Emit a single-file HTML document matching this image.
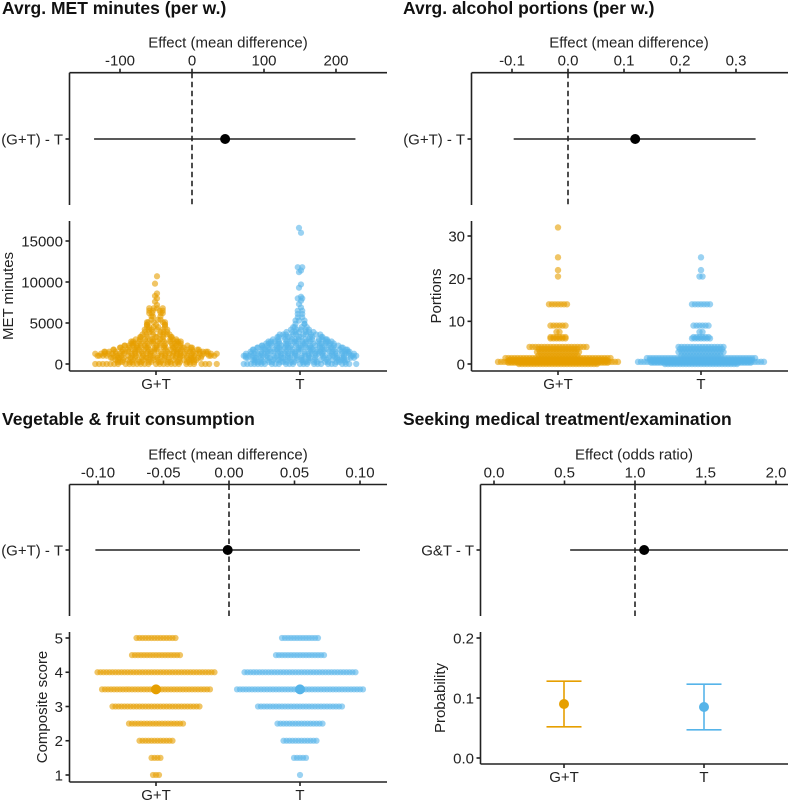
<!DOCTYPE html>
<html lang="en">
<head>
<meta charset="utf-8">
<title>Effects on health behaviours</title>
<style>
html,body{margin:0;padding:0;background:#fff;}
svg{display:block;}
text{font-family:"Liberation Sans",Arial,sans-serif;fill:#222;}
.title{font-weight:bold;font-size:17.5px;fill:#111;}
.lab{font-size:15px;}
.axis{stroke:#222;stroke-width:1.6;fill:none;}
</style>
</head>
<body>
<svg id="chart" xmlns="http://www.w3.org/2000/svg" width="790" height="801" viewBox="0 0 790 801"></svg>
<script>
// Forest-plot data: [low, estimate, high]
const metEffect = [-136, 46, 227];
const alcoholEffect = [-0.097, 0.12, 0.335];
const vegEffect = [-0.102, -0.001, 0.1];
const medicalEffect = [0.54, 1.065, 2.09];

// Effect axis ticks
const metEffectTicks = [-100, 0, 100, 200];
const metEffectLabels = ['-100', '0', '100', '200'];
const alcoholEffectTicks = [-0.1, 0, 0.1, 0.2, 0.3];
const alcoholEffectLabels = ['-0.1', '0.0', '0.1', '0.2', '0.3'];
const vegEffectTicks = [-0.1, -0.05, 0, 0.05, 0.1];
const vegEffectLabels = ['-0.10', '-0.05', '0.00', '0.05', '0.10'];
const medicalEffectTicks = [0, 0.5, 1, 1.5, 2];
const medicalEffectLabels = ['0.0', '0.5', '1.0', '1.5', '2.0'];

// Group categories
const groups = ['G+T', 'T'];

// MET minutes: response value and number of participants at that value
const metGTValues = [0,250,500,750,1000,1250,1500,1750,2000,2250,2500,2750,3000,3300,3600,3900,4200,4500,4800,5100,5400,5800,6200,6500,6800,7200,7600,8000,8300,8600,9800,10700];
const metGTCounts = [28,18,19,21,27,28,24,20,17,15,12,12,10,8,7,6,6,5,5,5,3,3,4,4,4,1,1,1,1,1,1,1];
const metTValues = [0,250,500,750,1000,1250,1500,1750,2000,2250,2500,2750,3000,3300,3600,3900,4200,4500,4900,5300,5700,6100,6500,6900,7300,7700,8000,8200,9300,9700,11200,11400,11800,16000,16600];
const metTCounts = [26,21,22,25,26,25,23,22,20,18,16,15,13,11,10,7,5,4,3,3,2,2,2,1,1,1,2,1,1,1,1,1,2,1,1];
const metTicks = [0, 5000, 10000, 15000];

// Alcohol portions
const alcoholGTValues = [0,0.3,0.5,0.8,1,1.4,2,2.8,3.5,4,6,6.3,7.5,9,14,20.5,22,25,32];
const alcoholGTCounts = [27,34,41,34,33,36,14,15,14,20,6,6,2,6,7,1,1,1,1];
const alcoholTValues = [0,0.3,0.5,0.8,1,1.4,2,2.8,3.5,4,6,6.3,7.5,9,14,20.5,22,25];
const alcoholTCounts = [25,34,43,34,35,37,14,16,15,16,7,6,2,6,7,2,1,1];
const alcoholTicks = [0, 10, 20, 30];

// Composite score
const scoreValues = [1,1.5,2,2.5,3,3.5,4,4.5,5];
const scoreGTCounts = [3,4,12,19,30,37,40,17,14];
const scoreTCounts = [1,5,12,16,29,43,38,17,13];
const scoreMeans = [3.5, 3.5];
const scoreTicks = [1, 2, 3, 4, 5];

// Probability of seeking treatment
const probMean = [0.09, 0.085];
const probLow = [0.052, 0.047];
const probHigh = [0.128, 0.123];
const probTicks = [0, 0.1, 0.2];
const probTickLabels = ['0.0', '0.1', '0.2'];

const ORANGE = '#E69F00';
const BLUE = '#56B4E9';
const svg = document.getElementById('chart');

function mk(tag, attrs, parent) {
  const el = document.createElementNS('http://www.w3.org/2000/svg', tag);
  for (const k in attrs) el.setAttribute(k, attrs[k]);
  (parent || svg).appendChild(el);
  return el;
}
function linear(d0, d1, r0, r1) {
  return v => r0 + (v - d0) * (r1 - r0) / (d1 - d0);
}
// Van der Corput ordering spreads a row's points irregularly across its width
function vdc(n) {
  let v = 0, b = 0.5;
  while (n > 0) { if (n & 1) v += b; n >>= 1; b /= 2; }
  return v;
}
function label(str, x, y, anchor, name, cls, rot) {
  const attrs = { x: x, y: y, 'text-anchor': anchor, class: cls || 'lab' };
  if (rot) attrs.transform = 'rotate(-90 ' + x + ' ' + y + ')';
  const t = mk('text', attrs);
  t.textContent = str;
  
  
  return t;
}
function segment(x1, y1, x2, y2, name, style) {
  const l = mk('line', Object.assign({ x1: x1, y1: y1, x2: x2, y2: y2, class: 'axis' }, style || {}));
  
  
  return l;
}

function forest(p) {
  const g = mk('g', {});
  
  
  const x = linear(p.d0, p.d1, p.r0, p.r1);
  label(p.title, p.titleX, p.titleY, 'start', p.id + '-title', 'title');
  label(p.axisTitle, p.axisTitleX, p.axisY - p.axisTitleGap, 'middle', p.id + '-effect-axis-title');
  segment(p.left, p.axisY, p.right, p.axisY, p.id + '-effect-axis');
  segment(p.left, p.axisY, p.left, p.bottom, p.id + '-contrast-axis');
  p.ticks.forEach((t, i) => {
    segment(x(t), p.axisY - 4, x(t), p.axisY, p.id + '-effect-tick');
    label(p.labels[i], x(t), p.axisY - 7, 'middle', p.id + '-effect-tick-label');
  });
  segment(p.left - 4, p.rowY, p.left, p.rowY, p.id + '-contrast-tick');
  label(p.rowLabel, p.left - 6.5, p.rowY + 5.3, 'end', p.id + '-contrast-label');
  segment(x(p.ref), p.axisY, x(p.ref), p.bottom, p.id + '-reference-line', { 'stroke-dasharray': '5.5 3.5' });
  segment(x(p.effect[0]), p.rowY, Math.min(x(p.effect[2]), p.right), p.rowY, p.id + '-confidence-interval');
  const c = mk('circle', { cx: x(p.effect[1]), cy: p.rowY, r: 5, fill: '#000' });
  
  
}

function lowerAxes(p, y) {
  segment(p.left, p.top, p.left, p.bottom, p.id + '-y-axis');
  segment(p.left, p.bottom, p.right, p.bottom, p.id + '-x-axis');
  p.yTicks.forEach((t, i) => {
    segment(p.left - 4, y(t), p.left, y(t), p.id + '-y-tick');
    label(p.yLabels ? p.yLabels[i] : String(t), p.left - 6.5, y(t) + 5.3, 'end', p.id + '-y-tick-label');
  });
  groups.forEach((g, i) => {
    segment(p.centers[i], p.bottom, p.centers[i], p.bottom + 4, p.id + '-x-tick');
    label(g, p.centers[i], p.bottom + 18, 'middle', p.id + '-x-tick-label');
  });
  label(p.yTitle, p.yTitleX, p.yTitleY, 'middle', p.id + '-y-axis-title', 'lab', true);
}

function rowOffset(k, n, i, p) {
  const hw = (n - 1) * p.spacing / 2;
  if (!p.scatter) return k * p.spacing - hw;
  if (n === 1) return i % 2 ? 1 : -1;
  if (k === 0) return -hw;
  if (k === 1) return hw;
  return -hw + 2 * hw * vdc(k - 1 + i * 7);
}

function swarm(p) {
  const g = mk('g', {});
  
  
  const y = linear(p.d0, p.d1, p.y0, p.y1);
  lowerAxes(p, y);
  p.series.forEach((s, gi) => {
    s.values.forEach((v, i) => {
      const n = s.counts[i];
      for (let k = 0; k < n; k++) {
        const dot = mk('circle', {
          cx: p.centers[gi] + rowOffset(k, n, i, p),
          cy: y(v), r: p.r, fill: gi === 0 ? ORANGE : BLUE, 'fill-opacity': p.alpha
        }, g);
        
        
      }
    });
    if (p.means) {
      const m = mk('circle', { cx: p.centers[gi], cy: y(p.means[gi]), r: 5, fill: gi === 0 ? ORANGE : BLUE }, g);
      
      
    }
  });
}

function probability(p) {
  const y = linear(p.d0, p.d1, p.y0, p.y1);
  lowerAxes(p, y);
  groups.forEach((name, i) => {
    const col = i === 0 ? ORANGE : BLUE;
    const cx = p.centers[i];
    const st = { style: 'stroke:' + col + ';stroke-width:1.6' };
    segment(cx, y(probLow[i]), cx, y(probHigh[i]), p.id + '-error-bar-' + name, st);
    segment(cx - 17.5, y(probLow[i]), cx + 17.5, y(probLow[i]), p.id + '-error-cap-low-' + name, st);
    segment(cx - 17.5, y(probHigh[i]), cx + 17.5, y(probHigh[i]), p.id + '-error-cap-high-' + name, st);
    const c = mk('circle', { cx: cx, cy: y(probMean[i]), r: 5, fill: col });
    
    
  });
}

forest({ id: 'met', title: 'Avrg. MET minutes (per w.)', titleX: 2, titleY: 14, axisTitle: 'Effect (mean difference)', axisTitleX: 228, axisTitleGap: 25,
  d0: 0, d1: 100, r0: 192, r1: 264, left: 69.5, right: 387, axisY: 72.7, bottom: 205, rowY: 139,
  ticks: metEffectTicks, labels: metEffectLabels, ref: 0, effect: metEffect, rowLabel: '(G+T) - T' });
forest({ id: 'alcohol', title: 'Avrg. alcohol portions (per w.)', titleX: 403, titleY: 14, axisTitle: 'Effect (mean difference)', axisTitleX: 629, axisTitleGap: 25,
  d0: 0, d1: 0.1, r0: 568, r1: 624, left: 471.5, right: 788, axisY: 72.7, bottom: 205, rowY: 139,
  ticks: alcoholEffectTicks, labels: alcoholEffectLabels, ref: 0, effect: alcoholEffect, rowLabel: '(G+T) - T' });
forest({ id: 'veg', title: 'Vegetable & fruit consumption', titleX: 2, titleY: 425, axisTitle: 'Effect (mean difference)', axisTitleX: 228, axisTitleGap: 25,
  d0: 0, d1: 0.05, r0: 229, r1: 294.5, left: 69.5, right: 387, axisY: 484.5, bottom: 616, rowY: 550,
  ticks: vegEffectTicks, labels: vegEffectLabels, ref: 0, effect: vegEffect, rowLabel: '(G+T) - T' });
forest({ id: 'medical', title: 'Seeking medical treatment/examination', titleX: 403, titleY: 425, axisTitle: 'Effect (odds ratio)', axisTitleX: 634, axisTitleGap: 25,
  d0: 0, d1: 1, r0: 494, r1: 635, left: 480.5, right: 788, axisY: 484.5, bottom: 616, rowY: 550,
  ticks: medicalEffectTicks, labels: medicalEffectLabels, ref: 1, effect: medicalEffect, rowLabel: 'G&T - T' });

swarm({ id: 'met', d0: 0, d1: 15000, y0: 364, y1: 241, left: 69.5, right: 387, top: 221, bottom: 371,
  centers: [156, 300], yTicks: metTicks, yTitle: 'MET minutes', yTitleX: 13, yTitleY: 296, spacing: 4.5, r: 3.1, alpha: 0.6, scatter: true,
  series: [{ values: metGTValues, counts: metGTCounts }, { values: metTValues, counts: metTCounts }] });
swarm({ id: 'alcohol', d0: 0, d1: 30, y0: 364, y1: 236, left: 471.5, right: 788, top: 221, bottom: 371,
  centers: [558, 701], yTicks: alcoholTicks, yTitle: 'Portions', yTitleX: 441, yTitleY: 296, spacing: 3, r: 3.2, alpha: 0.6,
  series: [{ values: alcoholGTValues, counts: alcoholGTCounts }, { values: alcoholTValues, counts: alcoholTCounts }] });
swarm({ id: 'veg', d0: 1, d1: 5, y0: 775, y1: 638, left: 69.5, right: 387, top: 632, bottom: 782,
  centers: [156, 300], yTicks: scoreTicks, yTitle: 'Composite score', yTitleX: 47, yTitleY: 707, spacing: 3, r: 3.1, alpha: 0.6, means: scoreMeans,
  series: [{ values: scoreValues, counts: scoreGTCounts }, { values: scoreValues, counts: scoreTCounts }] });
probability({ id: 'medical', d0: 0, d1: 0.2, y0: 758, y1: 638, left: 480.5, right: 788, top: 632, bottom: 764,
  centers: [564, 704], yTicks: probTicks, yLabels: probTickLabels, yTitle: 'Probability', yTitleX: 445, yTitleY: 698 });
</script>
</body>
</html>
